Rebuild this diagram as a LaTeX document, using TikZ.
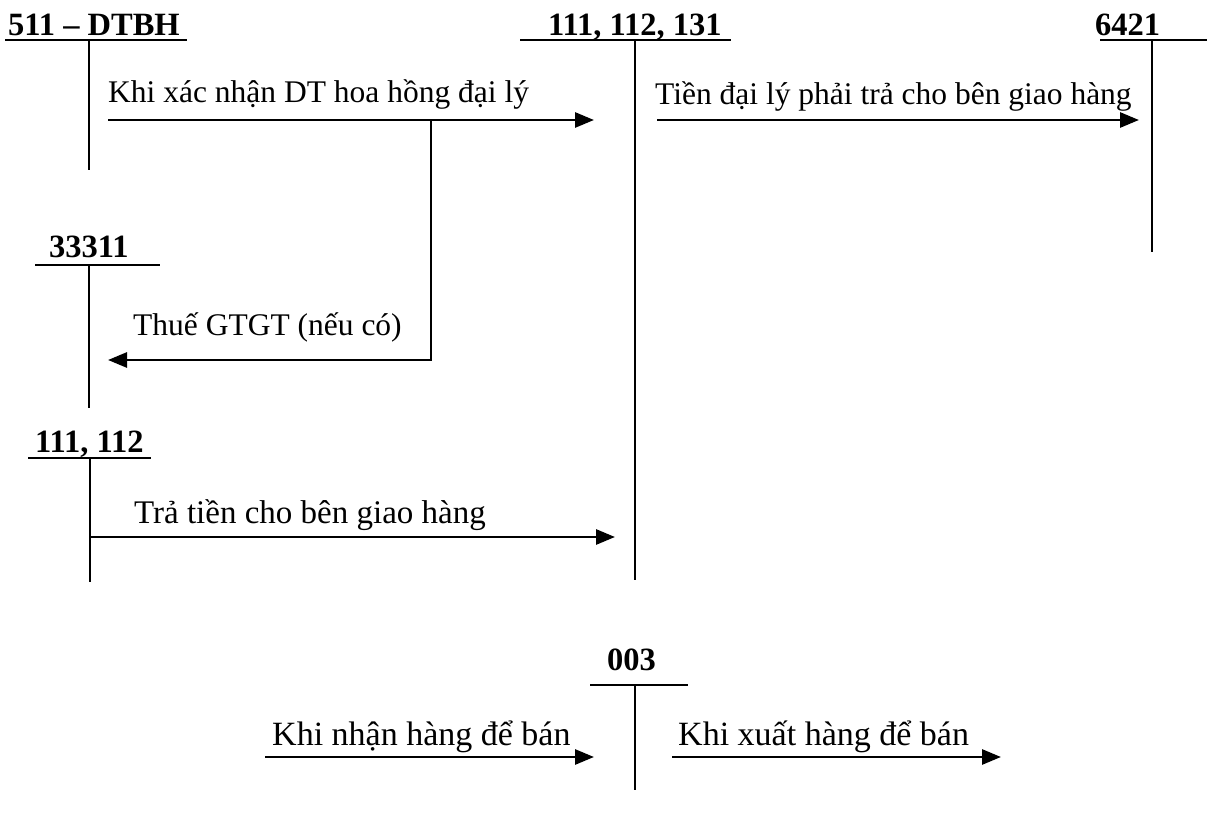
\documentclass[tikz,border=0pt]{standalone}
\usepackage{fontspec}
\setmainfont{Liberation Serif}
\usetikzlibrary{arrows.meta}
\tikzset{
  tacc/.style={line width=1.9pt},
  flow/.style={line width=2.8pt,-{Triangle[length=19pt,width=15pt]}},
  accname/.style={font=\fontsize{32.5}{38}\selectfont\bfseries,inner sep=0pt,anchor=base west},
  note/.style={font=\fontsize{31.5}{37}\selectfont,inner sep=0pt,anchor=base west},
  bignote/.style={note,font=\fontsize{34}{40}\selectfont},
}
\begin{document}
\begin{tikzpicture}[x=1pt,y=-1pt]
  \useasboundingbox (0,0) rectangle (1211,818);

  % account titles
  \node[accname] (dtbh) at (8,36) {511 -- DTBH};
  \node[accname] (tien) at (548,36) {111, 112, 131};
  \node[accname] (cp) at (1095,36) {6421};
  \node[accname] (vat) at (49,258) {33311};
  \node[accname] (cash) at (35,452) {111, 112};
  \node[accname] (hang) at (607,670) {003};

  % T-accounts
  \draw[tacc] (5,40) -- (187,40);
  \draw[tacc] (89,40) -- (89,170);
  \draw[tacc] (520,40) -- (731,40);
  \draw[tacc] (635,40) -- (635,580);
  \draw[tacc] (1100,40) -- (1207,40);
  \draw[tacc] (1152,40) -- (1152,252);
  \draw[tacc] (35,265) -- (160,265);
  \draw[tacc] (89,265) -- (89,408);
  \draw[tacc] (28,458) -- (151,458);
  \draw[tacc] (90,458) -- (90,582);
  \draw[tacc] (590,685) -- (688,685);
  \draw[tacc] (635,685) -- (635,790);

  % flows
  \coordinate (a1) at (108,120);
  \coordinate (b1) at (594,120);
  \coordinate (k) at (431,120);
  \coordinate (k2) at (431,360);
  \coordinate (c1) at (108,360);
  \coordinate (a2) at (657,120);
  \coordinate (b2) at (1139,120);
  \coordinate (a3) at (90,537);
  \coordinate (b3) at (615,537);
  \coordinate (a4) at (265,757);
  \coordinate (b4) at (594,757);
  \coordinate (a5) at (672,757);
  \coordinate (b5) at (1001,757);

  \draw[flow] (a1) -- (b1);
  \draw[flow] (k) -- (k2) -- (c1);
  \draw[flow] (a2) -- (b2);
  \draw[flow] (a3) -- (b3);
  \draw[flow] (a4) -- (b4);
  \draw[flow] (a5) -- (b5);

  \node[note] (n1) at (108,103) {Khi xác nhận DT hoa hồng đại lý};
  \node[note] (n2) at (133,336) {Thuế GTGT (nếu có)};
  \node[note] (n3) at (655,105) {Tiền đại lý phải trả cho bên giao hàng};
  \node[note,font=\fontsize{33}{39}\selectfont] (n4) at (134,523) {Trả tiền cho bên giao hàng};
  \node[bignote] (n5) at (272,745) {Khi nhận hàng để bán};
  \node[bignote] (n6) at (678,745) {Khi xuất hàng để bán};
\end{tikzpicture}
\end{document}
